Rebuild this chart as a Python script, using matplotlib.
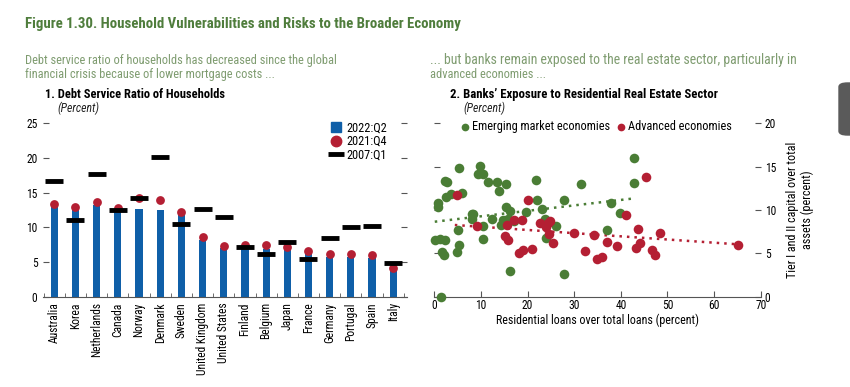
import numpy as np
import matplotlib
matplotlib.use("Agg")
from matplotlib import pyplot as plt
from matplotlib import font_manager
from matplotlib.lines import Line2D
from matplotlib.patches import FancyBboxPatch

# pick a narrow sans face if one is installed, else plain sans (sizes get fitted below anyway)
installed = {f.name for f in font_manager.fontManager.ttflist}
narrow = [n for n in ["Liberation Sans Narrow", "Roboto Condensed", "Open Sans Condensed",
                      "Noto Sans Condensed", "Arial Narrow"] if n in installed]
if narrow:
    plt.rcParams["font.family"] = [narrow[0], "DejaVu Sans"]
elif any(f.name == "DejaVu Sans" and f.stretch == "condensed" for f in font_manager.fontManager.ttflist):
    plt.rcParams["font.family"] = ["DejaVu Sans"]
    plt.rcParams["font.stretch"] = "condensed"
else:
    plt.rcParams["font.family"] = ["Liberation Sans", "DejaVu Sans"]

GREEN_TITLE = "#4f7d3c"
GREEN_SUB = "#7f9c70"
BLUE = "#0f5fa8"
RED = "#b41f33"
GREEN = "#4a7d35"
AXIS = "#555555"

# panel 1: debt service ratio of households (percent)
countries = ["Australia", "Korea", "Netherlands", "Canada", "Norway", "Denmark", "Sweden",
             "United Kingdom", "United States", "Finland", "Belgium", "Japan", "France",
             "Germany", "Portugal", "Spain", "Italy"]
dsr_2022q2 = [13.0, 12.5, 13.2, 12.4, 12.6, 12.5, 11.8, 8.2, 7.0, 7.1, 6.9, 6.8, 6.2, 5.7, 5.7, 5.6, 4.0]
dsr_2021q4 = [13.3, 12.9, 13.6, 12.8, 14.3, 14.0, 12.2, 8.6, 7.3, 7.5, 7.45, 7.1, 6.6, 6.1, 6.1, 6.0, 4.2]
dsr_2007q1 = [16.7, 11.0, 17.7, 12.5, 14.2, 20.2, 10.5, 12.6, 11.5, 7.2, 6.1, 7.9, 5.5, 8.4, 10.0, 10.2, 4.9]

# panel 2: residential loans over total loans vs tier I and II capital over total assets
em_x = [0.9, 0.9, 0.1, 1.2, 2.3, 1.6, 2.1, 2.3, 2.8, 2.6, 3.5, 5.4, 5.9, 5.1, 5.4, 4.8, 1.4,
        9.8, 9.4, 10.4, 8.0, 8.4, 8.0, 10.5, 10.5, 11.6, 13.4, 13.9, 15.4, 12.4, 14.4, 14.8,
        15.4, 16.2, 15.7, 17.1, 16.2, 19.7, 21.8, 22.1, 23.0, 23.7, 23.9, 26.2, 27.8, 27.8,
        31.5, 37.1, 37.9, 39.8, 42.8, 42.8]
em_y = [10.8, 10.3, 6.5, 6.6, 6.5, 5.2, 4.8, 13.3, 13.2, 11.5, 11.9, 14.9, 12.0, 7.7, 6.0, 5.1, 0.0,
        15.1, 14.2, 14.2, 9.5, 9.5, 9.0, 8.1, 6.6, 13.2, 13.2, 12.2, 13.0, 9.0, 8.3, 8.8,
        10.4, 9.9, 9.0, 8.7, 3.0, 9.8, 13.5, 11.2, 10.1, 9.0, 6.8, 8.1, 11.2, 2.6,
        13.0, 7.7, 10.8, 9.6, 16.0, 13.1]
ae_x = [4.8, 9.1, 15.2, 15.7, 15.5, 17.1, 18.9, 20.2, 18.2, 19.1, 20.9, 22.7, 23.9, 24.4, 24.8,
        24.7, 25.4, 29.9, 34.2, 32.3, 34.8, 35.9, 37.1, 39.1, 41.2, 43.2, 43.7, 44.2, 45.3,
        46.7, 47.4, 48.5, 65.2]
ae_y = [11.7, 8.1, 7.0, 6.5, 8.3, 8.9, 8.9, 11.1, 5.0, 5.4, 5.5, 8.5, 8.0, 8.5, 8.7,
        7.2, 6.2, 7.3, 7.1, 5.3, 4.3, 4.6, 6.3, 5.8, 9.4, 5.6, 7.8, 6.2, 13.8,
        5.4, 4.8, 7.3, 6.0]
# trend lines as drawn in the source (start/end points)
em_trend_x = [0.1, 43.0]
em_trend_y = [8.65, 11.35]
ae_trend_x = [4.4, 65.2]
ae_trend_y = [8.27, 6.04]

W, H = 850, 387
fig = plt.figure(figsize=(W / 100, H / 100), dpi=100)
renderer = fig.canvas.get_renderer()


def px_axes(x0, y0, x1, y1):
    return fig.add_axes([x0 / W, 1 - y1 / H, (x1 - x0) / W, (y1 - y0) / H])


def fit(t, target, vertical=False):
    # scale font size so the text spans `target` pixels (reference width)
    bb = t.get_window_extent(renderer)
    span = bb.height if vertical else bb.width
    t.set_fontsize(t.get_fontsize() * target / span)
    return t.get_fontsize()


def ftext(x, y, s, target, **kw):
    t = fig.text(x / W, 1 - y / H, s, va="baseline", fontsize=10, **kw)
    fit(t, target)
    return t


ftext(25, 28, "Figure 1.30. Household Vulnerabilities and Risks to the Broader Economy", 437,
      fontweight="bold", color=GREEN_TITLE)
sub = ftext(25, 64, "Debt service ratio of households has decreased since the global", 311, color=GREEN_SUB)
fig.text(25 / W, 1 - 78 / H, "financial crisis because of lower mortgage costs ...", va="baseline",
         fontsize=sub.get_fontsize(), color=GREEN_SUB)
ftext(45, 98, "1. Debt Service Ratio of Households", 181, fontweight="bold", color="black")
pc = ftext(57, 112, "(Percent)", 42, style="italic", color="#222222")

ftext(430, 64, "... but banks remain exposed to the real estate sector, particularly in", 367, color=GREEN_SUB)
fig.text(430 / W, 1 - 78 / H, "advanced economies ...", va="baseline", fontsize=sub.get_fontsize(), color=GREEN_SUB)
ftext(450, 98, "2. Banks\u2019 Exposure to Residential Real Estate Sector", 267, fontweight="bold", color="black")
fig.text(463 / W, 1 - 112 / H, "(Percent)", va="baseline", fontsize=pc.get_fontsize(), style="italic", color="#222222")

fig.patches.append(FancyBboxPatch((839 / W, 1 - 135 / H), 20 / W, 52 / H,
                                  boxstyle="round,pad=0,rounding_size=0.01",
                                  transform=fig.transFigure, color="#5a5a5a"))

# size for tick labels: fit "United Kingdom" (vertical) to the reference height
probe = fig.text(0, 0, "United Kingdom", rotation=90, fontsize=10)
tick_fs = fit(probe, 72, vertical=True)
probe.remove()
probe = fig.text(0, 0, "Emerging market economies", fontsize=10)
leg_fs = fit(probe, 137)
probe.remove()

# ---- panel 1
ax1 = px_axes(43, 123.3, 407, 296.7)
pos = np.arange(len(countries))
ax1.bar(pos, dsr_2022q2, width=0.34, color=BLUE, zorder=2)
ax1.scatter(pos, dsr_2021q4, s=40, color=RED, zorder=3, linewidths=0)
ax1.scatter(pos, dsr_2007q1, s=150, marker="_", color="black", linewidths=3.5, zorder=4)
ax1.set_xlim(-0.53, 16.65)
ax1.set_ylim(0, 25)
ax1.set_yticks([0, 5, 10, 15, 20, 25])
ax1.set_xticks(pos)
ax1.set_xticklabels(countries, rotation=90, fontsize=tick_fs)
ax1.set_xticks(np.arange(-0.5, 17, 1), minor=True)
ax1.tick_params(axis="x", which="major", length=0, pad=4)
ax1.tick_params(axis="x", which="minor", direction="in", length=3, color=AXIS)
ax1.tick_params(axis="y", which="both", direction="in", length=4, color=AXIS, labelsize=tick_fs,
                right=True, pad=4)
for s in ["left", "right", "top"]:
    ax1.spines[s].set_visible(False)
ax1.spines["bottom"].set_color(AXIS)
ax1.patch.set_alpha(0)
handles = [Line2D([], [], marker="s", ls="", color=BLUE, markersize=7),
           Line2D([], [], marker="o", ls="", color=RED, markersize=7.5),
           Line2D([], [], marker="_", ls="", color="black", markersize=12, markeredgewidth=3.5)]
ax1.legend(handles, ["2022:Q2", "2021:Q4", "2007:Q1"], loc="upper right", frameon=False,
           fontsize=leg_fs, handlelength=0.8, handletextpad=0.5, labelspacing=0.05,
           bbox_to_anchor=(0.96, 1.04), borderaxespad=0)

# ---- panel 2
ax2 = px_axes(434.3, 123.3, 760.7, 296.7)
ax2.plot(em_trend_x, em_trend_y, ls=(0, (1, 2)), color=GREEN, lw=1.8, zorder=1)
ax2.plot(ae_trend_x, ae_trend_y, ls=(0, (1, 2)), color=RED, lw=1.8, zorder=1)
ax2.scatter(em_x, em_y, s=48, color=GREEN, linewidths=0, zorder=3, clip_on=False,
            label="Emerging market economies")
ax2.scatter(ae_x, ae_y, s=48, color=RED, linewidths=0, zorder=3, clip_on=False,
            label="Advanced economies")
ax2.set_xlim(0, 70)
ax2.set_ylim(0, 20)
ax2.set_xticks(range(0, 71, 10))
ax2.set_yticks(range(0, 21, 5))
ax2.tick_params(axis="x", direction="in", length=4, color=AXIS, labelsize=tick_fs, pad=2)
ax2.tick_params(axis="y", direction="in", length=4, color=AXIS, labelsize=tick_fs,
                left=True, right=True, labelleft=False, labelright=True, pad=3)
for s in ["left", "right", "top"]:
    ax2.spines[s].set_visible(False)
ax2.spines["bottom"].set_color(AXIS)
ax2.patch.set_alpha(0)
xl = ax2.set_xlabel("Residential loans over total loans (percent)", fontsize=10, labelpad=1)
fit(xl, 202)
ax2.yaxis.set_label_position("right")
yl = ax2.set_ylabel("Tier I and II capital over total\nassets (percent)", fontsize=10, labelpad=7)
fit(yl, 135, vertical=True)
ax2.legend(loc="upper left", ncol=2, frameon=False, fontsize=leg_fs, handlelength=0.5,
           handletextpad=0.35, columnspacing=0.6, bbox_to_anchor=(0.07, 1.045),
           borderaxespad=0, markerscale=0.8)

fig.savefig("out.png", dpi=100)
